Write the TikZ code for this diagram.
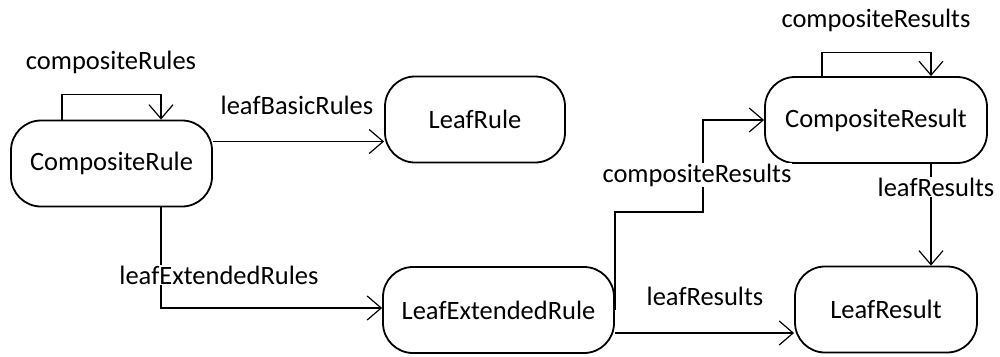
\documentclass[tikz,border=0pt]{standalone}
\usepackage{fontspec}
\setmainfont{Carlito}
\usetikzlibrary{arrows.meta}
\begin{document}
\begin{tikzpicture}[x=1pt,y=-1pt,
  state/.style={draw, line width=1.8pt, rounded corners=30pt, minimum width=#1, minimum height=86pt, inner sep=0pt},
  conn/.style={line width=1.2pt, -{Straight Barb[length=14pt,width=24pt,line width=1.2pt]}},
  lbl/.style={fill=white, inner sep=1pt},
  every node/.style={font=\fontsize{26.5}{31}\selectfont}]
\useasboundingbox (0,0) rectangle (1000,356);
\node[state=201pt] (cr) at (111.5,163.5) {CompositeRule};
\node[state=180pt] (lr) at (475,119.5) {LeafRule};
\node[state=222pt] (cres) at (876,120) {CompositeResult};
\node[state=231pt] (ler) at (498.5,310) {LeafExtendedRule};
\node[state=182pt] (lres) at (886,309.5) {LeafResult};
\coordinate (bend) at (703,212);
% self loop composite rule
\draw[conn] ([xshift=-49.5pt]cr.north) -- ++(0,-25) -| ([xshift=49.5pt]cr.north);
\node (l1) at (111,62) {compositeRules};
% leafBasicRules
\draw[conn] ([yshift=22pt]cr.east) -- ([yshift=22pt]cr.east -| lr.west);
\node (l2) at (297,105) {leafBasicRules};
% leafExtendedRules
\draw[conn] ([xshift=49.5pt]cr.south) |- ([yshift=2pt]ler.west);
\node[lbl] (l3) at (219,275) {leafExtendedRules};
% compositeResults from ler
\draw[conn] (ler.east) |- (bend) |- (cres.west);
\node[lbl] (l4) at (697,175) {compositeResults};
% leafResults from ler
\draw[conn] ([yshift=-23pt]ler.east) -- ([yshift=-23pt]ler.east -| lres.west);
\node (l5) at (705,296) {leafResults};
% self loop composite result
\draw[conn] ([xshift=-54pt]cres.north) -- ++(0,-24) -| ([xshift=55pt]cres.north);
\node (l6) at (876,20) {compositeResults};
% leafResults vertical
\draw[conn] ([xshift=55pt]cres.south) -- ([xshift=55pt]cres.south |- lres.north);
\node[lbl] (l7) at (936,187) {leafResults};
\end{tikzpicture}
\end{document}
